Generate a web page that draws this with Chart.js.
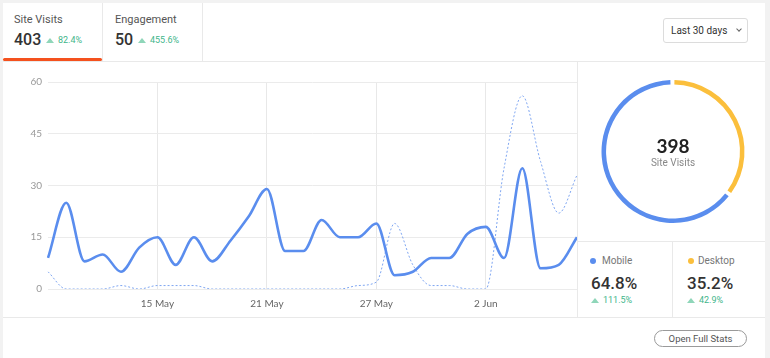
<!DOCTYPE html>
<html>
<head>
<meta charset="utf-8">
<script src="https://cdn.jsdelivr.net/npm/chart.js@4.4.1/dist/chart.umd.min.js"></script>
<style>
  html, body { margin: 0; padding: 0; }
  body { width: 770px; height: 358px; background: #f2f2f2; font-family: Roboto, "Noto Sans", sans-serif; position: relative; overflow: hidden; }
  .card { position: absolute; left: 3px; top: 3px; width: 762px; height: 355px; background: #fff; }
  .abs { position: absolute; }
  .hline { position: absolute; height: 1px; background: #e9e9e9; }
  .vline { position: absolute; width: 1px; background: #e9e9e9; }
  .tlabel { position: absolute; font-size: 11px; color: #555; }
  .tval { position: absolute; font-size: 16px; font-weight: 500; color: #333; }
  .delta { position: absolute; font-size: 9px; color: #3fb68b; white-space: nowrap; }
  .tri { display: inline-block; width: 0; height: 0; border-left: 4px solid transparent; border-right: 4px solid transparent; border-bottom: 5px solid #8fd6b9; margin-right: 4px; vertical-align: 0px; }
  .dd { position: absolute; left: 663px; top: 18px; width: 85px; height: 25px; border: 1px solid #dcdcdc; border-radius: 3px; box-sizing: border-box; font-size: 10px; color: #333; }
  .dd span { position: absolute; left: 7px; top: 6px; }
  .chev { position: absolute; left: 73px; top: 8px; width: 3px; height: 3px; border-right: 1px solid #666; border-bottom: 1px solid #666; transform: rotate(45deg); }
  .slabel { position: absolute; font-size: 10px; color: #777; }
  .dot { position: absolute; width: 6px; height: 6px; border-radius: 50%; }
  .pct { position: absolute; font-size: 17px; font-weight: 500; color: #333; }
  .btn { position: absolute; left: 654px; top: 330px; width: 93px; height: 17px; border: 1px solid #9a9a9a; border-radius: 9px; box-sizing: border-box; font-size: 9.5px; color: #555; text-align: center; line-height: 15px; }
  .ctr1 { position: absolute; left: 623px; width: 100px; top: 134px; text-align: center; font-size: 19px; font-weight: 700; color: #222; font-family: Lato, Roboto, sans-serif; }
  .ctr2 { position: absolute; left: 623px; width: 100px; top: 157px; text-align: center; font-size: 10px; color: #888; }
</style>
</head>
<body>
<div class="card"></div>

<!-- header -->
<div class="hline" style="left:3px;top:61px;width:762px;"></div>
<div class="vline" style="left:102px;top:3px;height:58px;"></div>
<div class="vline" style="left:202px;top:3px;height:58px;"></div>
<div class="abs" style="left:3px;top:58px;width:99px;height:3px;background:#f4511e;border-radius:2px;"></div>

<div class="tlabel" style="left:14px;top:13px;">Site Visits</div>
<div class="tval" style="left:14px;top:30px;">403</div>
<div class="delta" style="left:46px;top:35px;"><span class="tri"></span>82.4%</div>

<div class="tlabel" style="left:115px;top:13px;">Engagement</div>
<div class="tval" style="left:115px;top:30px;">50</div>
<div class="delta" style="left:138px;top:35px;"><span class="tri"></span>455.6%</div>

<div class="dd"><span>Last 30 days</span><div class="chev"></div></div>

<!-- panels -->
<div class="vline" style="left:577px;top:62px;height:255px;"></div>
<div class="hline" style="left:3px;top:317px;width:762px;"></div>
<div class="hline" style="left:577px;top:241px;width:188px;"></div>
<div class="vline" style="left:672px;top:242px;height:75px;"></div>

<div class="abs" style="left:3px;top:62px;width:574px;height:255px;"><canvas id="line"></canvas></div>
<div class="abs" style="left:580px;top:62px;width:186px;height:179px;"><canvas id="donut"></canvas></div>

<div class="ctr1">398</div>
<div class="ctr2">Site Visits</div>

<div class="dot" style="left:590px;top:258px;background:#5a8dee;"></div>
<div class="slabel" style="left:602px;top:255px;">Mobile</div>
<div class="pct" style="left:591px;top:273px;">64.8%</div>
<div class="delta" style="left:591px;top:295px;"><span class="tri"></span>111.5%</div>

<div class="dot" style="left:688px;top:258px;background:#fbbf3c;"></div>
<div class="slabel" style="left:698px;top:255px;">Desktop</div>
<div class="pct" style="left:687px;top:273px;">35.2%</div>
<div class="delta" style="left:687px;top:295px;"><span class="tri"></span>42.9%</div>

<div class="btn">Open Full Stats</div>

<script>
const categories = ['9 May','10 May','11 May','12 May','13 May','14 May','15 May','16 May','17 May','18 May',
  '19 May','20 May','21 May','22 May','23 May','24 May','25 May','26 May','27 May','28 May',
  '29 May','30 May','31 May','1 Jun','2 Jun','3 Jun','4 Jun','5 Jun','6 Jun','7 Jun'];
const shownTicks = ['15 May','21 May','27 May','2 Jun'];
const yTicks = [0, 15, 30, 45, 60];
const currentVisits = [9,25,8,10,5,12,15,7,15,8,14,21,29,11,11,20,15,15,19,4,5,9,9,16,18,9,35,6,7,15];
const previousVisits = [5,0,0,0,1,0,1,1,1,0,0,0,0,0,0,0,0,1,2,19,7,1,1,0,0,35,56,37,22,33];
const deviceLabels = ['Desktop','Mobile'];
const deviceShare = [35.2, 64.8];

const BLUE = '#5a8dee', YELLOW = '#fbbf3c';

new Chart(document.getElementById('line'), {
  type: 'line',
  data: {
    labels: categories,
    datasets: [
      { data: currentVisits, borderColor: BLUE, borderWidth: 2.6, pointRadius: 0, pointHoverRadius: 0, cubicInterpolationMode: 'monotone', fill: false },
      { data: previousVisits, borderColor: '#7fa6f1', borderWidth: 1, borderDash: [2, 2], pointRadius: 0, pointHoverRadius: 0, cubicInterpolationMode: 'monotone', fill: false }
    ]
  },
  options: {
    responsive: true, maintainAspectRatio: false, animation: false,
    layout: { autoPadding: false, padding: { top: 20, right: 0, left: 0, bottom: 0 } },
    plugins: { legend: { display: false }, tooltip: { enabled: false } },
    scales: {
      x: {
        border: { display: false },
        grid: { drawTicks: false, color: c => (c.index > 0 && shownTicks.includes(categories[c.index])) ? '#e8e8e8' : 'rgba(0,0,0,0)' },
        ticks: { autoSkip: false, maxRotation: 0, padding: 9, color: '#666', font: { family: 'Lato, Roboto, sans-serif', size: 10 },
          callback: (v, i) => shownTicks.includes(categories[i]) ? categories[i] : '' },
        afterFit: s => { s.height = 28; s.paddingLeft = 0; s.paddingRight = 0; }
      },
      y: {
        min: yTicks[0], max: yTicks[yTicks.length - 1],
        border: { display: false },
        grid: { drawTicks: false, color: '#ebebeb' },
        afterBuildTicks: s => { s.ticks = yTicks.map(v => ({ value: v })); },
        ticks: { padding: 6, color: '#999', font: { family: 'Lato, Roboto, sans-serif', size: 10 } },
        afterFit: s => { s.width = 45; s.paddingTop = 0; s.paddingBottom = 0; }
      }
    }
  }
});

new Chart(document.getElementById('donut'), {
  type: 'doughnut',
  data: { labels: deviceLabels, datasets: [{ data: deviceShare, backgroundColor: [YELLOW, BLUE], borderWidth: 0, spacing: 2.5 }] },
  options: {
    responsive: true, maintainAspectRatio: false, animation: false,
    cutout: '93.5%',
    layout: { padding: 18 },
    plugins: { legend: { display: false }, tooltip: { enabled: false } }
  }
});
</script>
</body>
</html>
